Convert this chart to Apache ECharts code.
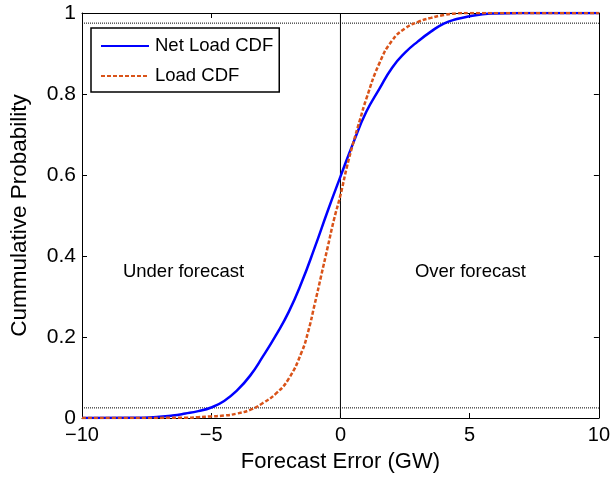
<!DOCTYPE html>
<html>
<head>
<meta charset="utf-8">
<title>Forecast error CDF</title>
<script src="https://cdn.jsdelivr.net/npm/echarts@6/dist/echarts.min.js"></script>
<style>
  html, body { margin: 0; padding: 0; background: #fff; }
  #chart { width: 613px; height: 480px; }
</style>
</head>
<body>
<div id="chart"></div>
<script>
// Forecast error (GW) sample points and the two cumulative distributions
const netLoadX = [-10, -8, -7, -6.5, -6, -5.5, -5, -4.5, -4, -3.5, -3, -2.5, -2, -1.5, -1, -0.5, 0, 0.5, 1, 1.5, 2, 2.5, 3, 3.5, 4, 4.5, 5, 5.5, 6, 7, 10];
const netLoadCdf = [0, 0.0005, 0.003, 0.006, 0.011, 0.017, 0.026, 0.042, 0.068, 0.104, 0.152, 0.204, 0.262, 0.335, 0.42, 0.51, 0.596, 0.68, 0.756, 0.812, 0.865, 0.902, 0.93, 0.954, 0.974, 0.985, 0.992, 0.997, 0.999, 1, 1];

const loadX = [-10, -6, -5.5, -5, -4.5, -4, -3.5, -3, -2.5, -2, -1.5, -1.25, -1, -0.75, -0.5, -0.25, 0, 0.25, 0.5, 0.75, 1, 1.5, 2, 2.5, 3, 3.5, 4, 4.5, 5, 10];
const loadCdf = [0, 0.0005, 0.002, 0.004, 0.006, 0.011, 0.02, 0.037, 0.06, 0.097, 0.163, 0.213, 0.28, 0.35, 0.42, 0.49, 0.55, 0.62, 0.68, 0.735, 0.788, 0.875, 0.932, 0.962, 0.978, 0.988, 0.995, 0.999, 1, 1];

// Axis ranges and ticks
const xTicks = [-10, -5, 0, 5, 10];
const yTicks = [0, 0.2, 0.4, 0.6, 0.8, 1];

// Reference lines: 2.5% / 97.5% probability levels and zero error
const probLevels = [0.025, 0.975];
const zeroError = 0;

// Region annotations
const regionText = ['Under forecast', 'Over forecast'];
const regionAt = [[-6.07, 0.36], [5.03, 0.36]];

const FONT = 'Liberation Sans, Arial, Helvetica, sans-serif';
const xMin = xTicks[0], xMax = xTicks[xTicks.length - 1];
const yMin = yTicks[0], yMax = yTicks[yTicks.length - 1];

const pairs = (xs, ys) => xs.map((x, i) => [x, ys[i]]);
const fmtNum = v => String(v).replace('-', '\u2212');

const boxAxisX = (pos, labels) => ({
  type: 'value', position: pos, min: xMin, max: xMax, interval: 5,
  axisLine: { show: true, onZero: false, lineStyle: { color: '#000', width: 1 } },
  axisTick: { show: true, inside: true, length: 5, lineStyle: { color: '#000' } },
  axisLabel: { show: labels, color: '#000', fontFamily: FONT, fontSize: 20, margin: 7, formatter: fmtNum },
  splitLine: { show: false }
});
const boxAxisY = (pos, labels) => ({
  type: 'value', position: pos, min: yMin, max: yMax, interval: 0.2,
  axisLine: { show: true, onZero: false, lineStyle: { color: '#000', width: 1 } },
  axisTick: { show: true, inside: true, length: 5, lineStyle: { color: '#000' } },
  axisLabel: { show: labels, color: '#000', fontFamily: FONT, fontSize: 21, margin: 6,
    formatter: v => (Math.abs(v - Math.round(v)) < 1e-9 ? String(Math.round(v)) : v.toFixed(1)) },
  splitLine: { show: false }
});

const xBottom = Object.assign(boxAxisX('bottom', true), {
  name: 'Forecast Error (GW)', nameLocation: 'middle', nameGap: 33,
  nameTextStyle: { color: '#000', fontFamily: FONT, fontSize: 22 }
});
const yLeft = Object.assign(boxAxisY('left', true), {
  name: 'Cummulative Probability', nameLocation: 'middle', nameGap: 51,
  nameTextStyle: { color: '#000', fontFamily: FONT, fontSize: 22.5 }
});

const refSeries = [];
probLevels.forEach(p => {
  refSeries.push({
    type: 'line', name: 'level', silent: true, symbol: 'none', z: 1,
    data: [[xMin, p], [xMax, p]],
    lineStyle: { color: '#000', width: 1, type: [1, 1] }
  });
});
refSeries.push({
  type: 'line', name: 'zero', silent: true, symbol: 'none', z: 1,
  data: [[zeroError, yMin], [zeroError, yMax]],
  lineStyle: { color: '#000', width: 1 }
});

const option = {
  animation: false,
  backgroundColor: '#fff',
  grid: { left: 82, right: 12, top: 13, bottom: 62 },
  xAxis: [xBottom, boxAxisX('top', false)],
  yAxis: [yLeft, boxAxisY('right', false)],
  legend: {
    data: ['Net Load CDF', 'Load CDF'],
    orient: 'vertical', left: 91, top: 28,
    backgroundColor: '#fff', borderColor: '#000', borderWidth: 1.5,
    padding: [8, 6, 6, 9], itemGap: 10, itemWidth: 48, itemHeight: 20,
    itemStyle: { color: 'transparent', borderWidth: 0, opacity: 0 },
    textStyle: { color: '#000', fontFamily: FONT, fontSize: 18.5, lineHeight: 20, padding: [0, 0, 0, 1] }
  },
  series: refSeries.concat([
    {
      type: 'line', name: 'Net Load CDF', symbol: 'none', smooth: 0.5, z: 3,
      data: pairs(netLoadX, netLoadCdf),
      lineStyle: { color: '#0000ff', width: 2.5 }, itemStyle: { color: '#0000ff' }
    },
    {
      type: 'line', name: 'Load CDF', symbol: 'none', smooth: 0.5, z: 4,
      data: pairs(loadX, loadCdf),
      lineStyle: { color: '#d95319', width: 2.5, type: [4, 2] }, itemStyle: { color: '#d95319' }
    },
    {
      type: 'scatter', name: 'regions', silent: true, symbolSize: 0, z: 5,
      itemStyle: { opacity: 1 },
      data: regionAt.map((p, i) => ({ value: p, text: regionText[i] })),
      label: {
        show: true, position: 'inside', color: '#000', opacity: 1, fontFamily: FONT, fontSize: 18.5,
        formatter: p => p.data.text
      }
    }
  ])
};

const chart = echarts.init(document.getElementById('chart'), null, { renderer: 'canvas' });
chart.setOption(option);
</script>
</body>
</html>
